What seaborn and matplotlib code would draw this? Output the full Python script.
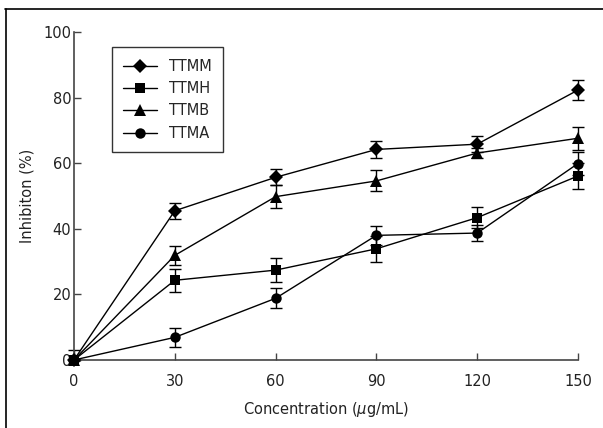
import numpy as np
import pandas as pd
import matplotlib
matplotlib.use("Agg")
import matplotlib.pyplot as plt
import seaborn as sns
from matplotlib.lines import Line2D

conc = [0, 30, 60, 90, 120, 150]
series = ["TTMM", "TTMH", "TTMB", "TTMA"]
ttmm = [0, 45.5, 55.7, 64.2, 65.8, 82.3]
ttmh = [0, 24.3, 27.4, 33.9, 43.4, 56.1]
ttmb = [0, 31.9, 49.8, 54.6, 63.1, 67.6]
ttma = [0, 6.9, 18.8, 38.0, 38.7, 59.9]
ttmm_err = [0, 2.4, 2.4, 2.5, 2.5, 3.0]
ttmh_err = [3.0, 3.5, 3.6, 4.0, 3.2, 3.9]
ttmb_err = [0, 3.0, 3.5, 3.2, 1.6, 3.5]
ttma_err = [0, 3.0, 3.0, 2.9, 2.5, 3.4]
yticks = [0, 20, 40, 60, 80, 100]

vals = {"TTMM": ttmm, "TTMH": ttmh, "TTMB": ttmb, "TTMA": ttma}
errs = {"TTMM": ttmm_err, "TTMH": ttmh_err, "TTMB": ttmb_err, "TTMA": ttma_err}
df = pd.DataFrame([(s, c, v) for s in series for c, v in zip(conc, vals[s])],
                  columns=["series", "conc", "val"])

sns.set_style("white")
plt.rcParams['font.family'] = ['DejaVu Sans']
fig = plt.figure(figsize=(6.03, 4.28), dpi=100)
ax = fig.add_axes([0.1227, 0.1589, 0.8358, 0.7663])

markers = {"TTMM": "D", "TTMH": "s", "TTMB": "^", "TTMA": "o"}
msizes = {"TTMM": 7, "TTMH": 7, "TTMB": 8, "TTMA": 7.5}
for s in series:
    sub = df[df["series"] == s]
    sns.lineplot(data=sub, x="conc", y="val", color="black", marker=markers[s],
                 markersize=msizes[s], markeredgewidth=0, linewidth=1.0,
                 ax=ax, clip_on=False, legend=False, zorder=3)
    v = np.array(vals[s]); e = np.array(errs[s])
    lower = np.minimum(e, v)
    ax.errorbar(conc, vals[s], yerr=[lower, e], fmt="none", ecolor="black",
                elinewidth=1.0, capsize=4, capthick=1.0, clip_on=False, zorder=2)

ax.set_xlim(0, 150)
ax.set_ylim(0, 100)
ax.set_xticks(conc)
ax.set_yticks(yticks)
for sp in ["top", "right"]:
    ax.spines[sp].set_visible(False)
for sp in ["left", "bottom"]:
    ax.spines[sp].set_color("#444444")
    ax.spines[sp].set_linewidth(1.2)
ax.tick_params(direction="in", length=5, width=1, colors="#444444",
               labelcolor="#222222", labelsize=10.5,
               bottom=True, left=True)
ax.tick_params(axis="x", pad=10)
ax.tick_params(axis="y", pad=2)
ax.set_xlabel("Concentration ($\\mu$g/mL)", fontsize=10.5, color="#222222", labelpad=8)
ax.set_ylabel("Inhibiton (%)", fontsize=10.5, color="#222222", labelpad=6)

handles = [Line2D([], [], color="black", marker=markers[s], markersize=msizes[s],
                  markeredgewidth=0, linewidth=1.0, label=s) for s in series]
leg = ax.legend(handles=handles, loc="upper left", bbox_to_anchor=(0.075, 0.954),
                borderaxespad=0, frameon=True, fancybox=False, edgecolor="black",
                fontsize=10.5, handlelength=2.3, borderpad=0.8, labelspacing=0.5)
leg.get_frame().set_linewidth(1.0)

fig.add_artist(Line2D([0.008, 1.0], [0.979, 0.979], color="black", linewidth=1.2,
                      transform=fig.transFigure))
fig.add_artist(Line2D([0.01, 0.01], [0.0, 0.979], color="black", linewidth=1.2,
                      transform=fig.transFigure))

fig.savefig("out.png", dpi=100)
